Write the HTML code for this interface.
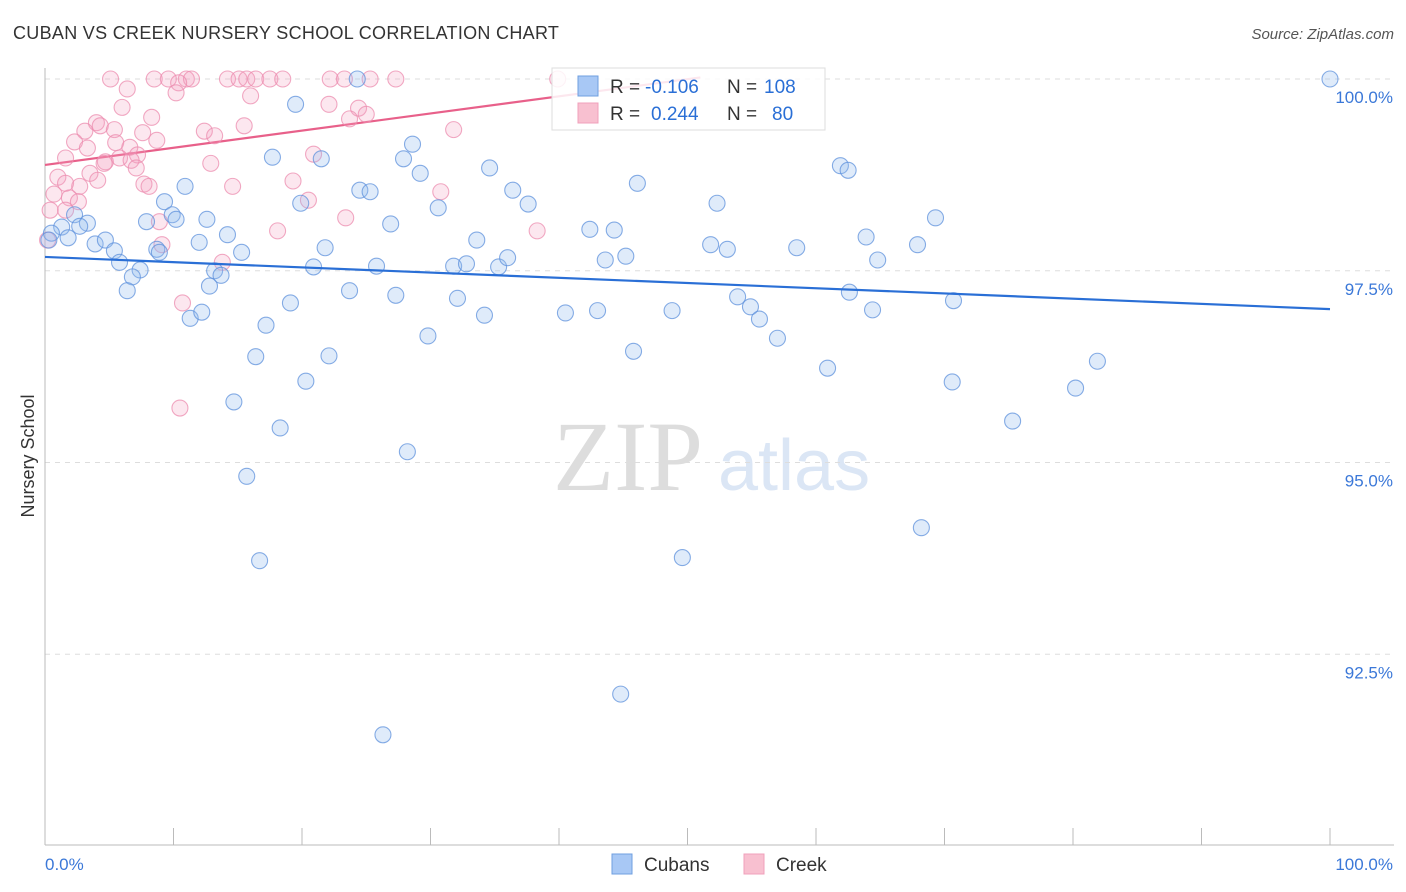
<!DOCTYPE html>
<html><head><meta charset="utf-8"><style>
body{margin:0;background:#fff;font-family:"Liberation Sans",sans-serif;}
</style></head><body>
<svg id="chart" width="1406" height="892" xmlns="http://www.w3.org/2000/svg" style="display:block">
<text x="13" y="39" font-size="18" fill="#333" letter-spacing="0.3">CUBAN VS CREEK NURSERY SCHOOL CORRELATION CHART</text>
<text x="1394" y="39" font-size="15" fill="#555" text-anchor="end" font-style="italic">Source: ZipAtlas.com</text>
<text transform="translate(34,456) rotate(-90)" font-size="18" fill="#333" text-anchor="middle">Nursery School</text>
<text x="553" y="490" font-size="100" font-family="Liberation Serif" fill="#ddd">ZIP</text>
<text x="718" y="490" font-size="72" fill="#dbe6f5">atlas</text>
<g id="grid"></g><g id="axes"></g><g id="lines"></g><g id="pts"></g><g id="legend"></g>
</svg>
<script>
const yTicks=[100,97.5,95,92.5];
const yTickLabels=["100.0%","97.5%","95.0%","92.5%"];
const xTickLabels=["0.0%","100.0%"];
const cubanX=[100,24.3,19.5,28.6,17.7,21.5,27.9,29.2,34.6,61.9,62.5,46.1,10.9,24.5,25.3,36.4,19.9,37.6,30.6,52.3,9.3,9.9,10.2,7.9,12.6,69.3,1.3,2.3,3.3,2.7,26.9,42.4,44.3,14.2,0.5,1.8,3.9,4.7,12.0,21.8,33.6,63.9,67.9,51.8,53.1,58.5,5.4,8.7,8.9,15.3,5.8,7.4,6.8,13.2,13.7,20.9,25.8,31.8,32.8,35.3,36.0,43.6,45.2,64.8,12.8,6.4,23.7,27.3,32.1,19.1,53.9,54.9,62.6,70.7,11.3,12.2,17.2,34.2,40.5,43.0,48.8,55.6,64.4,29.8,57.0,16.4,22.1,45.8,60.9,20.3,70.6,80.2,81.9,14.7,18.3,75.3,28.2,15.7,68.2,16.7,49.6,44.8,26.3,0.3];
const cubanY=[100,100,99.67,99.15,98.98,98.96,98.96,98.77,98.84,98.87,98.81,98.64,98.60,98.55,98.53,98.55,98.38,98.37,98.32,98.38,98.40,98.23,98.17,98.14,98.17,98.19,98.07,98.23,98.12,98.08,98.11,98.04,98.03,97.97,97.99,97.93,97.85,97.90,97.87,97.80,97.90,97.94,97.84,97.84,97.78,97.80,97.76,97.78,97.74,97.74,97.61,97.51,97.42,97.50,97.44,97.55,97.56,97.56,97.59,97.55,97.67,97.64,97.69,97.64,97.30,97.24,97.24,97.18,97.14,97.08,97.16,97.03,97.22,97.11,96.88,96.96,96.79,96.92,96.95,96.98,96.98,96.87,96.99,96.65,96.62,96.38,96.39,96.45,96.23,96.06,96.05,95.97,96.32,95.79,95.45,95.54,95.14,94.82,94.15,93.72,93.76,91.98,91.45,97.9];
const creekX=[5.1,8.5,9.6,11.0,11.4,14.2,15.1,15.7,16.4,17.5,18.5,22.2,23.3,25.3,27.3,39.9,10.4,10.2,16.0,6.4,6.0,8.3,22.1,24.4,25.0,23.7,4.0,3.1,4.3,5.4,7.6,12.4,15.5,31.8,2.3,3.3,5.5,6.6,8.7,13.2,1.6,4.7,5.8,7.2,6.7,20.9,7.1,12.9,3.5,4.6,1.0,1.6,2.7,4.1,7.7,8.1,14.6,19.3,0.7,1.9,2.6,30.8,20.5,1.6,0.4,23.4,8.9,18.1,38.3,9.1,13.8,10.7,10.5,0.2];
const creekY=[100,100,100,100,100,100,100,100,100,100,100,100,100,100,100,100,99.95,99.82,99.78,99.87,99.63,99.50,99.67,99.62,99.54,99.48,99.43,99.32,99.39,99.34,99.30,99.32,99.39,99.34,99.18,99.10,99.17,99.11,99.20,99.26,98.97,98.92,98.97,99.01,98.94,99.02,98.84,98.90,98.77,98.90,98.72,98.64,98.60,98.68,98.63,98.60,98.60,98.67,98.50,98.45,98.40,98.53,98.42,98.29,98.29,98.19,98.14,98.02,98.02,97.84,97.61,97.08,95.71,97.90];
const cubanTrend=[[0,97.68],[100,97.0]];
const creekTrend=[[0,98.88],[51,100.02]];
const NS="http://www.w3.org/2000/svg";
const X=v=>45+v*12.85, Y=v=>79+(100-v)*76.7;
function mk(tag,parent,attrs){const e=document.createElementNS(NS,tag);for(const k in attrs)e.setAttribute(k,attrs[k]);parent.appendChild(e);return e;}
const grid=document.getElementById('grid'),axes=document.getElementById('axes');
yTicks.forEach((t,i)=>{
 const l=mk('line',grid,{x1:45,x2:1394,y1:Y(t),y2:Y(t),stroke:'#ddd','stroke-dasharray':'5,5'});
 
 
 const tx=mk('text',axes,{x:1393,y:Y(t)+24,'font-size':17,fill:'#3b78d8','text-anchor':'end'});
 tx.textContent=yTickLabels[i];
 
 
});
const xa=mk('line',axes,{x1:45,x2:1394,y1:845,y2:845,stroke:'#bbb'});


const ya=mk('line',axes,{x1:45,x2:45,y1:68,y2:845,stroke:'#bbb'});


for(let i=1;i<=10;i++){const t=mk('line',axes,{x1:45+i*128.5,x2:45+i*128.5,y1:828,y2:845,stroke:'#bbb'});
 
 }
[[45,'start',0],[1393,'end',1]].forEach(([x,a,i])=>{const t=mk('text',axes,{x:x,y:870,'font-size':17,fill:'#3b78d8','text-anchor':a});t.textContent=xTickLabels[i];
 
 });
const pts=document.getElementById('pts');
creekX.forEach((v,i)=>{const c=mk('circle',pts,{cx:X(v),cy:Y(creekY[i]),r:8,fill:'rgba(244,160,190,0.25)',stroke:'rgba(236,140,175,0.75)','stroke-width':1.1});
 
 });
cubanX.forEach((v,i)=>{const c=mk('circle',pts,{cx:X(v),cy:Y(cubanY[i]),r:8,fill:'rgba(150,190,240,0.3)',stroke:'rgba(95,145,220,0.75)','stroke-width':1.1});
 
 });
const lines=document.getElementById('lines');
const lb=mk('line',document.getElementById('chart'),{x1:X(cubanTrend[0][0]),y1:Y(cubanTrend[0][1]),x2:X(cubanTrend[1][0]),y2:Y(cubanTrend[1][1]),stroke:'#2a6fd6','stroke-width':2.2});


const lp=mk('line',lines,{x1:X(creekTrend[0][0]),y1:Y(creekTrend[0][1]),x2:X(creekTrend[1][0]),y2:Y(creekTrend[1][1]),stroke:'#e8608a','stroke-width':2.2});


const lg=document.getElementById('legend');
document.getElementById('chart').appendChild(lg);
const box=mk('rect',lg,{x:552,y:68,width:273,height:62,fill:'rgba(255,255,255,0.85)',stroke:'#ddd'});


[[0,'#a8c8f5','#6f9fe0','-0.106','108'],[1,'#f8c0d0','#f0a0bb','0.244','80']].forEach(([i,f,s,r,n])=>{
 const y=86+i*27;
 const sw=mk('rect',lg,{x:578,y:y-10,width:20,height:20,fill:f,stroke:s});
 
 
 const t=mk('text',lg,{x:610,y:y+7,'font-size':19,fill:'#333'});
 t.innerHTML='R = <tspan fill="#2a6fd6" x="'+(i?651:645)+'">'+r+'</tspan><tspan fill="#333" x="727">N = </tspan><tspan fill="#2a6fd6" x="'+(i?772:764)+'">'+n+'</tspan>';
 
 
});
[[612,'#a8c8f5','#6f9fe0','Cubans'],[744,'#f8c0d0','#f0a0bb','Creek']].forEach(([x,f,s,l])=>{
 const sw=mk('rect',lg,{x:x,y:854,width:20,height:20,fill:f,stroke:s});
 
 
 const t=mk('text',lg,{x:x+32,y:871,'font-size':19,fill:'#333'});t.textContent=l;
 
 
});
</script>
</body></html>
